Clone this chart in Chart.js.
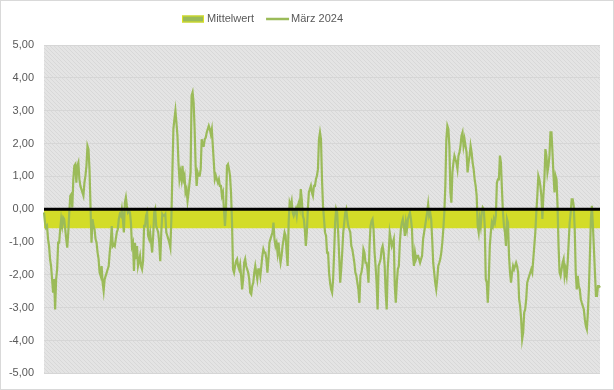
<!DOCTYPE html>
<html>
<head>
<meta charset="utf-8">
<script src="https://cdn.jsdelivr.net/npm/chart.js@4"></script>
<style>
  html, body { margin: 0; padding: 0; background: #fff; }
  canvas { display: block; }
</style>
</head>
<body>
<canvas id="chart" width="614" height="390"></canvas>
<script>
// Werte März 2024 (gleichmäßige Zeitschritte)
const maerz2024 = [
  -0.10, -0.41, -0.56, -0.51, -0.91, -1.12, -1.52, -1.73, -2.13, -2.54, -2.13, -3.05, -2.13, -1.83, -1.02, -1.02,
  -0.61, -0.30, -0.51, -0.25, -0.30, -0.61, -0.91, -1.17, -0.71, -0.10, 0.41, 0.46, 0.05, 0.91, 1.32, 1.37,
  0.81, 1.32, 1.42, 0.91, 0.71, 0.61, 0.51, 0.41, 0.81, 1.02, 1.32, 1.93, 1.83, 1.22, 0.10, -1.02,
  -0.30, -0.51, -0.61, -0.91, -1.02, -1.32, -1.52, -1.93, -2.03, -1.73, -2.24, -2.49, -2.13, -2.03, -1.93, -1.83,
  -1.73, -1.32, -1.02, -0.51, -1.12, -1.07, -1.12, -0.91, -0.71, -0.61, -0.30, -0.15, -0.20, 0.00, -0.30, -0.71,
  0.20, 0.36, 0.10, -0.10, -0.05,
  -0.10, -0.41, -1.12, -1.02, -1.88, -1.02, -1.52, -1.12, -1.73, -1.58, -1.42, -1.73, -1.83, -1.58, -0.51, -0.51,
  -0.20, -0.10, -0.81, -0.91, -0.71, -1.02, -1.32, -0.81, -0.10, 0.00, -0.51, -0.61, -0.71, -1.02, -1.58, -0.71,
  -0.15, -0.20, -0.20, -0.15, -0.71, -0.81, -0.91, -1.02, -1.17, -0.30, 1.12, 2.44, 2.74, 3.00, 2.64, 2.24,
  1.42, 0.91, 1.12, 0.91, 1.32, 0.91, 1.02, 0.51, 0.61, 0.25, 0.51, 0.81, 1.12, 3.46, 3.56, 3.25,
  2.44, 1.32, 0.71, 1.12, 1.02, 1.02, 1.22, 2.13, 1.93, 1.93, 2.13, 2.18, 2.34, 2.44, 2.54, 2.44,
  2.29, 2.44, 1.93, 1.42, 0.91, 1.02, 0.91, 0.81, 0.91, 0.71, 0.71, 0.41, 0.51, 0.00, -0.51,
  0.00, 1.32, 1.37, 1.22, 1.02, 0.51, -0.41, -1.83, -1.93, -1.73, -1.58, -1.52, -1.73, -1.83, -1.68, -2.03,
  -2.44, -2.13, -1.63, -1.52, -1.73, -1.83, -1.93, -2.13, -2.54, -2.59, -2.34, -2.24, -1.93, -1.73, -1.93, -2.13,
  -1.83, -1.83, -2.03, -1.73, -1.42, -1.22, -1.32, -1.32, -1.52, -1.93, -1.52, -1.02, -0.91, -0.81, -0.71, -0.41,
  -0.91, -1.12, -1.02, -1.32, -1.02, -1.42, -1.63, -1.42, -1.12, -0.91, -0.71, -0.81, -1.32, -1.73, -0.41, 0.20,
  0.10, 0.25, -0.10, -0.20, -0.10, 0.00, -0.20, 0.10, 0.20, 0.05, 0.61, 0.30, -0.20, -0.30, -0.61, -1.12,
  -0.71, 0.00, 0.51, 0.61, 0.71, 0.51, 0.41, 0.71, 0.71, 0.91, 1.02, 1.22, 2.13, 2.34, 2.13,
  0.91, 0.10, -0.30, -0.71, -0.81, -1.32, -1.32, -1.93, -2.24, -2.44, -2.54, -2.13, -1.32, -0.41, 0.00, -0.10,
  -0.71, -1.42, -2.24, -1.83, -1.32, -0.71, -0.41, -0.10, 0.00, -0.30, -0.51, -0.61, -0.71, -1.12, -1.22, -1.42,
  -1.63, -1.93, -2.03, -2.24, -2.44, -2.85, -2.03, -1.93, -1.73, -1.22, -1.32, -1.63, -1.63, -1.83, -2.24, -1.12,
  -0.51, -0.36, -0.30, -0.61, -1.32, -1.73, -2.24, -3.05, -1.73, -1.63, -1.52, -1.22, -1.12, -1.32, -1.73, -2.54,
  -3.05, -1.83, -1.32, -0.71, -0.91, -1.12, -1.02, -0.91, -2.34, -2.85, -2.24, -1.83, -1.73, -1.02, -0.61, -0.41,
  -0.30, -0.51, -0.81, -0.41, -0.61, -0.30, -0.20, -0.10, -0.30, -0.61, -1.42, -1.73, -1.32, -1.52, -1.42,
  -1.42, -1.52, -1.63, -1.52, -1.42, -0.91, -0.71, -0.51, -0.30, -0.10, 0.15, -0.20, -0.10, -0.30, -0.91, -1.63,
  -1.93, -2.24, -2.44, -2.13, -1.73, -1.63, -1.52, -1.32, -1.02, -0.61, -0.10, 0.71, 2.13, 2.54, 2.44, 1.93,
  0.51, 0.20, 1.12, 1.42, 1.63, 1.52, 1.42, 1.22, 1.63, 1.73, 1.93, 2.24, 2.34, 1.93, 2.13, 1.93,
  1.73, 1.12, 1.42, 1.63, 1.93, 1.73, 1.42, 1.22, 0.91, 0.71, 0.41, -0.51, -0.71, -0.30, -0.51, -0.10,
  0.05, 0.00, -0.51, -2.13, -2.24, -2.85, -2.13, -1.12, -0.71, -0.41, -0.51, -0.30, -0.41, -0.20, 0.81, 0.91,
  0.91, 1.63, 1.42, 0.61, -0.10, -0.51, -0.71, -1.12, -0.30, -0.41, -1.42, -1.93, -2.24, -1.93, -1.73,
  -1.83, -1.73, -1.63, -1.73, -1.93, -2.74, -2.95, -3.35, -3.96, -3.76, -3.15, -3.05, -2.74, -2.24, -2.13, -2.03,
  -1.93, -1.83, -1.93, -1.52, -1.12, -0.71, -0.10, 0.41, 1.02, 0.91, 0.71, 0.41, -0.30, 0.41, 0.91, 1.83,
  1.63, 1.12, 1.32, 1.63, 2.34, 2.34, 1.73, 1.02, 0.51, 1.02, 0.91, 0.10, -1.12, -1.93, -2.03, -1.83,
  -1.63, -1.52, -2.03, -1.83, -2.03, -1.63, -1.02, -0.41, -0.10, 0.30, 0.30, 0.10, -0.61, -1.93, -2.44, -2.03,
  -2.34, -2.44, -2.74, -2.85, -2.95, -3.05, -3.35, -3.56, -3.66, -3.15, -2.44, -1.42, -0.30, 0.10, -0.51, -1.22,
  -1.93, -2.64, -2.64, -2.34, -2.34, -2.39
];
// Mittelwert (Band zwischen 0 und Mittelwert)
const mittelwert = -0.58;
const yTicks = [-5, -4, -3, -2, -1, 0, 1, 2, 3, 4, 5];
const labels = maerz2024.map((_, i) => i + 1);

const FONT = '11px "Liberation Sans"';
const TEXT_COLOR = '#595959';

// Schraffierter Hintergrund wie in Excel
function makeHatch() {
    const p = document.createElement('canvas');
    p.width = 4; p.height = 4;
    const c = p.getContext('2d');
    c.fillStyle = '#e4e4e4';
    c.fillRect(0, 0, 4, 4);
    c.fillStyle = '#d8d8d8';
    for (let i = 0; i < 4; i++) c.fillRect(i, i, 1, 1);
    return c.createPattern(p, 'repeat');
}

// Plotfläche aus den Skalen selbst
function plotBox(chart) {
    const { x, y } = chart.scales;
    return { left: x.left, right: x.right, top: y.top, bottom: y.bottom };
}

const excelLook = {
    id: 'excelLook',
    beforeDatasetsDraw(chart) {
        const { ctx } = chart;
        const a = plotBox(chart);
        ctx.save();
        ctx.beginPath();
        ctx.rect(a.left, a.top, a.right - a.left, a.bottom - a.top);
        ctx.clip();
        ctx.globalCompositeOperation = 'destination-over';
        ctx.fillStyle = makeHatch();
        ctx.fillRect(a.left, a.top, a.right - a.left, a.bottom - a.top);
        ctx.restore();
    },
    afterDatasetsDraw(chart) {
        // schwarze Nulllinie über den Daten
        const { ctx, scales } = chart;
        const a = plotBox(chart);
        const y0 = scales.y.getPixelForValue(0);
        ctx.save();
        ctx.strokeStyle = '#000';
        ctx.lineWidth = 3;
        ctx.beginPath();
        ctx.moveTo(a.left, y0);
        ctx.lineTo(a.right, y0);
        ctx.stroke();
        ctx.restore();
    },
    afterDraw(chart) {
        const { ctx, width, height } = chart;
        const ds = chart.data.datasets;
        ctx.save();
        // Legende
        ctx.font = FONT;
        ctx.textBaseline = 'middle';
        const w1 = ctx.measureText(ds[0].label).width;
        const w2 = ctx.measureText(ds[1].label).width;
        const total = 22 + 3 + w1 + 12 + 23 + 2 + w2;
        let x = Math.round(263 - total / 2);
        const y = 19;
        ctx.fillStyle = '#9bbb59';
        ctx.fillRect(x, y - 3.5, 22, 7);
        ctx.strokeStyle = '#dfe31c';
        ctx.lineWidth = 1;
        ctx.strokeRect(x + 0.5, y - 3, 21, 6);
        x += 25;
        ctx.fillStyle = TEXT_COLOR;
        ctx.fillText(ds[0].label, x, y);
        x += w1 + 12;
        ctx.strokeStyle = ds[1].borderColor;
        ctx.lineWidth = 2.5;
        ctx.beginPath();
        ctx.moveTo(x, y);
        ctx.lineTo(x + 23, y);
        ctx.stroke();
        x += 25;
        ctx.fillText(ds[1].label, x, y);
        // Rahmen
        ctx.strokeStyle = '#d9d9d9';
        ctx.lineWidth = 1;
        ctx.strokeRect(0.5, 0.5, width - 1, height - 1);
        ctx.restore();
    }
};

const ctx = document.getElementById('chart').getContext('2d');
new Chart(ctx, {
    type: 'line',
    data: {
        labels: labels,
        datasets: [{
            label: 'Mittelwert',
            data: labels.map(() => mittelwert),
            borderWidth: 0,
            borderColor: 'rgba(0,0,0,0)',
            backgroundColor: '#d3dc28',
            fill: 'origin',
            pointRadius: 0,
            order: 2
        }, {
            label: 'März 2024',
            data: maerz2024,
            borderColor: '#9bbb59',
            borderWidth: 2.2,
            fill: false,
            pointRadius: 0,
            tension: 0,
            order: 1
        }]
    },
    options: {
        responsive: false,
        animation: false,
        layout: { padding: { top: 45, right: 14, bottom: 15, left: 0 } },
        plugins: {
            legend: { display: false },
            tooltip: { enabled: false }
        },
        scales: {
            x: { display: false },
            y: {
                min: -5,
                max: 5,
                afterFit: function(scale) { scale.width = 44; },
                afterBuildTicks: function(scale) {
                    scale.ticks = yTicks.map(v => ({ value: v }));
                },
                border: { display: false },
                grid: { color: '#d6d6d6', lineWidth: 1, drawTicks: false },
                ticks: {
                    padding: 10,
                    color: TEXT_COLOR,
                    font: { family: 'Liberation Sans', size: 11 },
                    callback: v => v.toFixed(2).replace('.', ',')
                }
            }
        }
    },
    plugins: [excelLook]
});
</script>
</body>
</html>
